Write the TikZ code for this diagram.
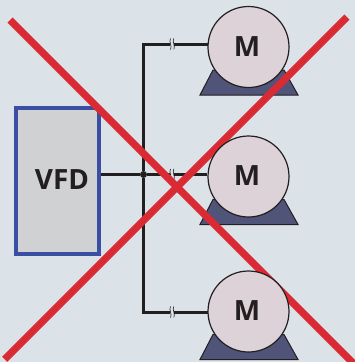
\documentclass[tikz,border=0pt]{standalone}
\usepackage{fontspec}
\setmainfont{Open Sans}
\definecolor{bgc}{HTML}{DBE2E8}
\definecolor{redx}{HTML}{DA2A34}
\definecolor{boxblue}{HTML}{3A4EA3}
\definecolor{boxfill}{HTML}{D0D1D3}
\definecolor{motorfill}{HTML}{DCD2D7}
\definecolor{basefill}{HTML}{505478}
\definecolor{ink}{HTML}{231F20}
\pgfdeclarelayer{low}
\pgfdeclarelayer{top}
\pgfsetlayers{low,main,top}
\tikzset{
  motorc/.style={circle,draw=ink,line width=1.2bp,fill=motorfill,minimum size=81bp,inner sep=0pt,text=ink,font=\fontsize{28}{28}\selectfont\bfseries},
  vfdbox/.style={rectangle,draw=boxblue,line width=3.4bp,fill=boxfill,minimum width=83bp,minimum height=146bp,inner sep=0pt,text=ink,font=\fontsize{28}{28}\selectfont\bfseries},
  basep/.style={draw=ink,line width=1bp,fill=basefill,line join=miter},
  wire/.style={draw=ink,line width=3bp},
  crossl/.style={draw=redx,line width=7.4bp},
  dotn/.style={circle,fill=ink,minimum size=7bp,inner sep=0pt},
  brk/.style={draw=ink,line width=.6bp}
}
\begin{document}
\begin{tikzpicture}[x=1bp,y=-1bp]
\useasboundingbox (0,0) rectangle (355,362);
\begin{pgfonlayer}{low}
\fill[bgc] (0,0) rectangle (355,362);
\foreach \c in {47,176.5,311.5}{
  \path[basep] (200,\c+48) -- (213,\c+23) -- (284,\c+23) -- (298,\c+48) -- cycle;
}
\node[vfdbox] (vfd) at (57.5,181) {\hspace{9bp}\raisebox{3.5bp}{VFD}};
\node[dotn] (junc) at (143.5,174.5) {};
\end{pgfonlayer}
\begin{pgfonlayer}{top}
\node[motorc] (m1) at (248.5,47) {\hspace{-3bp}\raisebox{1bp}{M}};
\node[motorc] (m2) at (248.5,176.5) {\hspace{-3bp}\raisebox{1bp}{M}};
\node[motorc] (m3) at (248.5,311.5) {\hspace{-3bp}\raisebox{1bp}{M}};
\end{pgfonlayer}
\begin{pgfonlayer}{low}
\coordinate (t1) at (215,44);
\coordinate (t3) at (215,312);
\draw[wire] (vfd.east |- junc) -- (junc) -- (m2.west |- junc);
\draw[wire,line join=miter] (junc) |- (t1);
\draw[wire,line join=miter] (junc) |- (t3);
\foreach \n/\y in {a/44,b/174.5,c/312}{
  \coordinate (g\n) at (172,\y);
  \fill[bgc] ([shift={(-2,-5)}]g\n) rectangle ([shift={(2,5)}]g\n);
  \draw[brk] ([shift={(-1.5,-5.5)}]g\n) .. controls ([shift={(-3.5,-2)}]g\n) and ([shift={(0.5,2)}]g\n) .. ([shift={(-1.5,5.5)}]g\n);
  \draw[brk] ([shift={(1.8,-5.5)}]g\n) .. controls ([shift={(-0.2,-2)}]g\n) and ([shift={(3.8,2)}]g\n) .. ([shift={(1.8,5.5)}]g\n);
}
\end{pgfonlayer}
\coordinate (xa1) at (10,20);
\coordinate (xa2) at (357,367);
\coordinate (xb1) at (4.7,359.3);
\coordinate (xb2) at (347,17);
\draw[crossl] (xa1) -- (xa2);
\draw[crossl] (xb1) -- (xb2);
\end{tikzpicture}
\end{document}
